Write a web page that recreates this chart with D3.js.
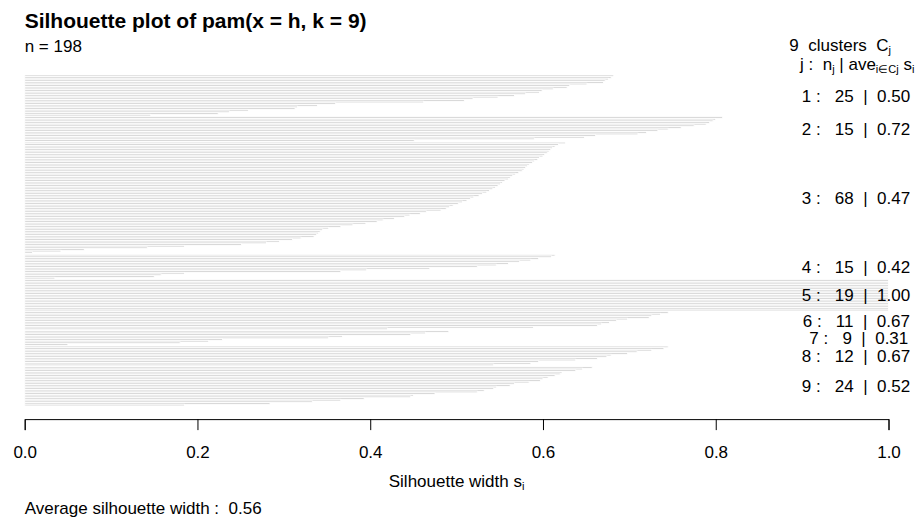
<!DOCTYPE html>
<html><head><meta charset="utf-8">
<script src="https://cdn.jsdelivr.net/npm/d3@7"></script>
<style>
body{margin:0;background:#fff}
text{font-family:"Liberation Sans",Arial,Helvetica,sans-serif;white-space:pre;fill:#000}
</style>
</head><body>
<svg id="chart" width="924" height="527"></svg>
<script>
// ---- data ----
const clusterIds = [1, 2, 3, 4, 5, 6, 7, 8, 9];
const clusterAverages = ["0.50", "0.72", "0.47", "0.42", "1.00", "0.67", "0.31", "0.67", "0.52"];
const sil1 = [0.682, 0.679, 0.676, 0.672, 0.670, 0.651, 0.631, 0.628, 0.612, 0.599, 0.596, 0.580, 0.567, 0.548, 0.519, 0.509, 0.462, 0.360, 0.339, 0.316, 0.313, 0.259, 0.237, 0.224, 0.146];
const sil2 = [0.808, 0.800, 0.797, 0.793, 0.789, 0.775, 0.760, 0.745, 0.733, 0.720, 0.710, 0.661, 0.648, 0.590, 0.451];
const sil3 = [0.626, 0.618, 0.614, 0.611, 0.609, 0.607, 0.605, 0.602, 0.600, 0.596,
              0.594, 0.590, 0.588, 0.584, 0.582, 0.580, 0.578, 0.576, 0.572, 0.568,
              0.565, 0.562, 0.560, 0.556, 0.553, 0.551, 0.548, 0.545, 0.542, 0.538,
              0.535, 0.530, 0.526, 0.520, 0.516, 0.512, 0.507, 0.502, 0.496, 0.492,
              0.488, 0.482, 0.465, 0.458, 0.446, 0.440, 0.428, 0.415, 0.408, 0.395,
              0.380, 0.366, 0.352, 0.345, 0.342, 0.340, 0.338, 0.335, 0.320, 0.310,
              0.295, 0.280, 0.251, 0.185, 0.142, 0.069, 0.042, 0.009];
const sil4 = [0.614, 0.610, 0.595, 0.586, 0.573, 0.560, 0.546, 0.524, 0.469, 0.396, 0.366, 0.185, 0.158, 0.150, 0.035];
const sil5 = [1.000, 1.000, 1.000, 1.000, 1.000, 1.000, 1.000, 1.000, 1.000, 1.000, 1.000, 1.000, 1.000, 1.000, 1.000, 1.000, 1.000, 1.000, 1.000];
const sil6 = [0.745, 0.736, 0.726, 0.723, 0.698, 0.685, 0.677, 0.668, 0.663, 0.589, 0.420];
const sil7 = [0.491, 0.464, 0.447, 0.368, 0.352, 0.229, 0.213, 0.180, 0.050];
const sil8 = [0.745, 0.740, 0.726, 0.709, 0.698, 0.679, 0.674, 0.663, 0.638, 0.595, 0.586, 0.543];
const sil9 = [0.657, 0.646, 0.638, 0.622, 0.620, 0.614, 0.606, 0.600, 0.597, 0.584, 0.567, 0.562, 0.546, 0.543, 0.532, 0.524, 0.475, 0.450, 0.447, 0.393, 0.366, 0.333, 0.284, 0.185];
const tickValues = [0, 0.2, 0.4, 0.6, 0.8, 1.0];
const tickLabels = ["0.0", "0.2", "0.4", "0.6", "0.8", "1.0"];
const mainTitle = "Silhouette plot of pam(x = h, k = 9)";
const averageWidth = "0.56";

const silByCluster = [sil1, sil2, sil3, sil4, sil5, sil6, sil7, sil8, sil9];

// ---- layout ----
const FS = 17;
const svg = d3.select("#chart");
const x = d3.scaleLinear().domain([0, 1]).range([24.7, 888.5]);

const bars = [];
const clusterInfo = [];
let pos = 0;
silByCluster.forEach((arr, ci) => {
  if (ci > 0) pos += 0.5;
  const start = pos;
  arr.forEach(v => { bars.push({cluster: clusterIds[ci], value: v, pos: pos}); pos += 1; });
  clusterInfo.push({id: clusterIds[ci], n: arr.length, avg: clusterAverages[ci], mid: (start + pos) / 2});
});
const totalUnits = pos;
const unitPx = 1.638;
const y = d3.scaleLinear().domain([0, totalUnits]).range([75, 75 + totalUnits * unitPx]);
const axisY = y(totalUnits * 1.04);
const totalN = bars.length;

svg.append("g").selectAll("rect").data(bars).join("rect")
  .attr("x", x(0))
  .attr("y", d => y(d.pos))
  .attr("width", d => x(d.value) - x(0))
  .attr("height", y(1) - y(0))
  .attr("fill", "#cccccc")
  .attr("stroke", "#ffffff")
  .attr("stroke-width", 0.9);

const axis = d3.axisBottom(x).tickValues(tickValues)
  .tickFormat((d, i) => tickLabels[i]).tickSizeOuter(0).tickSize(11).tickPadding(16);
const gAxis = svg.append("g").attr("transform", `translate(0,${axisY})`).call(axis);
gAxis.selectAll("text").attr("font-size", FS).attr("font-family", '"Liberation Sans",Arial,sans-serif');
gAxis.selectAll("path,line").attr("stroke", "#000");

svg.append("text").attr("x", 24.7).attr("y", 28).attr("font-size", 21).attr("font-weight", "bold").text(mainTitle);
svg.append("text").attr("x", 24.7).attr("y", 52).attr("font-size", FS).text("n = " + totalN);

const kt = svg.append("text").attr("x", 891).attr("y", 50.5).attr("font-size", FS).attr("text-anchor", "end");
kt.append("tspan").text(clusterIds.length + "  clusters  C");
kt.append("tspan").attr("font-size", 11).attr("dy", 3).text("j");

const hd = svg.append("text").attr("x", 800).attr("y", 70).attr("font-size", FS);
hd.append("tspan").text("j :  n");
hd.append("tspan").attr("font-size", 11).attr("dy", 3).text("j");
hd.append("tspan").attr("dy", -3).text(" | ave");
hd.append("tspan").attr("font-size", 11).attr("dy", 3).text("i\u2208Cj");
hd.append("tspan").attr("dy", -3).text(" s");
hd.append("tspan").attr("font-size", 11).attr("dy", 3).text("i");

clusterInfo.forEach(c => {
  const t = svg.append("text").attr("font-size", FS).attr("y", y(c.mid)).attr("dy", "0.36em")
    .text(`${c.id} :   ${c.n}  |  ${c.avg}`);
  const w = t.node().getComputedTextLength();
  t.attr("x", x(1) - 0.8 * w);
});

const xl = svg.append("text").attr("x", x(0.5)).attr("y", 486.5).attr("font-size", FS).attr("text-anchor", "middle");
xl.append("tspan").text("Silhouette width s");
xl.append("tspan").attr("font-size", 11).attr("dy", 3).text("i");

svg.append("text").attr("x", 24.7).attr("y", 513.5).attr("font-size", FS)
  .text("Average silhouette width :  " + averageWidth);
</script>
</body></html>
